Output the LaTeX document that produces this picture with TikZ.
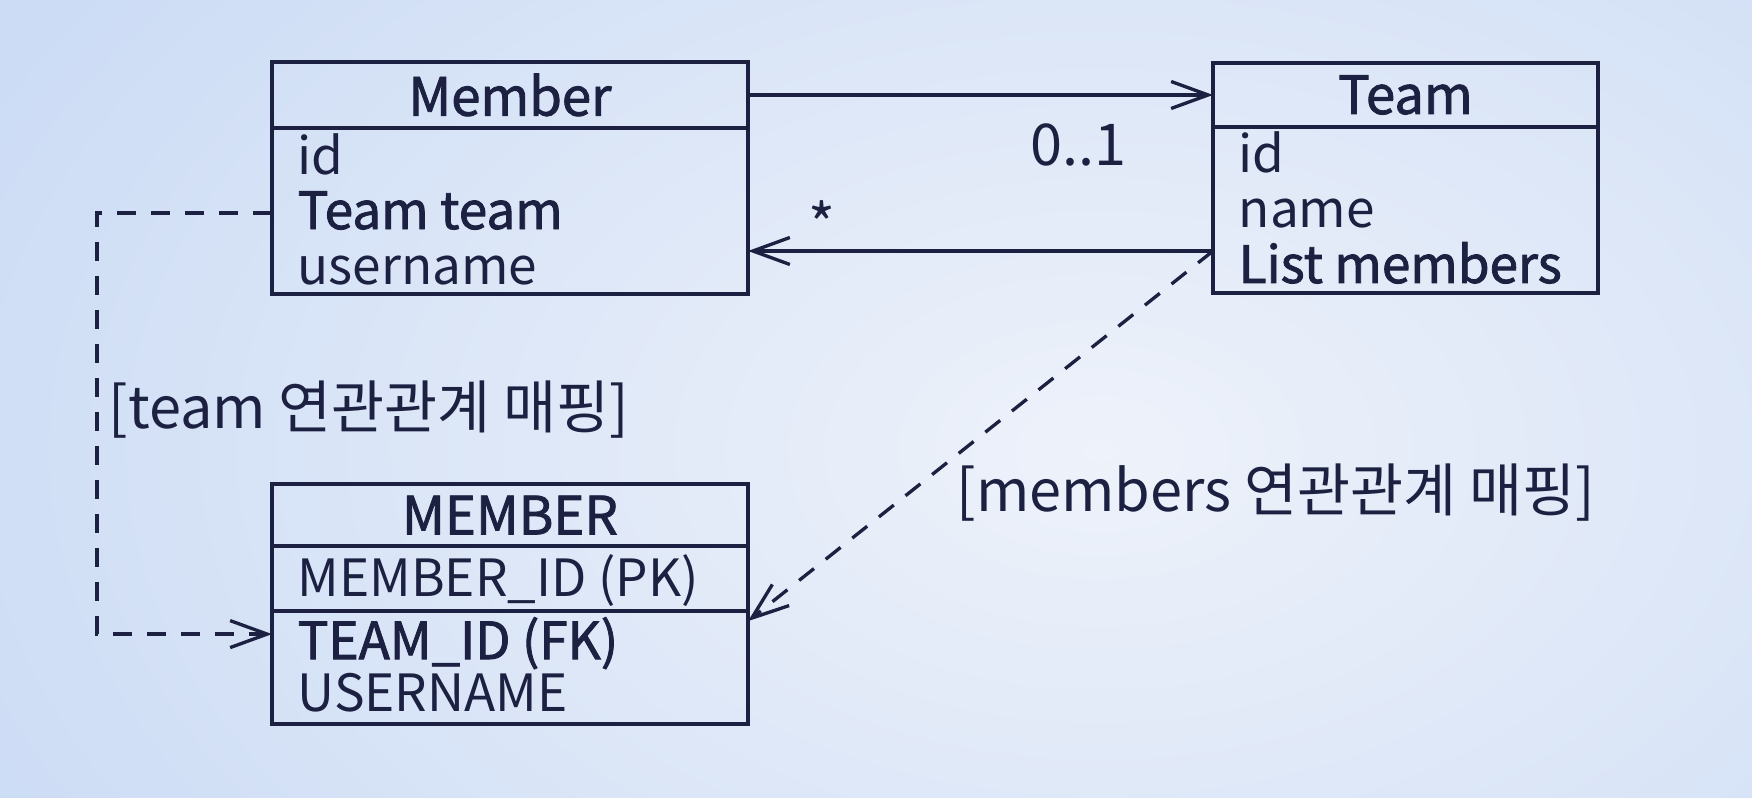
\documentclass[tikz,border=0pt]{standalone}
\usepackage{fontspec}
\setmainfont{Noto Sans CJK KR}[BoldFont=Noto Sans CJK KR,BoldFeatures={FakeBold=1.6}]
\usetikzlibrary{arrows.meta,positioning,calc}
\definecolor{ink}{HTML}{1C2142}
\definecolor{bginner}{HTML}{EEF2FA}
\definecolor{bgouter}{HTML}{CCDCF5}

\begin{document}
\begin{tikzpicture}[
node distance=0pt,
hdr/.style={draw=ink,line width=1.1pt,outer sep=0pt,minimum height=0.64cm,text=ink,font=\fontsize{15}{18}\selectfont\bfseries},
part/.style={draw=ink,line width=1.1pt,outer sep=0pt},
field/.style={anchor=base west,inner sep=0pt,text=ink,font=\fontsize{14.6}{18}\selectfont},
key/.style={field,font=\fontsize{14.6}{18}\selectfont\bfseries},
note/.style={inner sep=0pt,text=ink,font=\fontsize{16.4}{18}\selectfont},
assoc/.style={draw=ink,line width=0.95pt,-{Straight Barb[length=3.7mm,width=2.7mm]}},
maplink/.style={assoc,dash pattern=on 1.9mm off 1.5mm}]
% background
\useasboundingbox (0,0) rectangle (17.52,-7.98);
\begin{scope}
\clip (0,0) rectangle (17.52,-7.98);
\shade[inner color=bginner,outer color=bgouter] (-1.5,3.5) rectangle (23.5,-12.5);
\end{scope}
% classes
\node[hdr,minimum width=4.76cm] (memhead) at (5.10,-0.95) {Member};
\node[part,minimum width=4.76cm,minimum height=1.66cm,below=of memhead] (membody) {};
\node[hdr,minimum width=3.85cm,right=4.65cm of memhead] (teamhead) {Team};
\node[part,minimum width=3.85cm,minimum height=1.66cm,below=of teamhead] (teambody) {};
% table
\node[hdr,minimum width=4.76cm,minimum height=0.62cm,below=1.90cm of membody] (dbhead) {MEMBER};
\node[part,minimum width=4.76cm,minimum height=0.65cm,below=of dbhead] (dbpk) {};
\node[part,minimum width=4.76cm,minimum height=1.13cm,below=of dbpk] (dbrest) {};
% fields
\node[field] (memid) at ($(membody.north west)+(0.25,-0.46)$) {id};
\node[key] (memteam) at ($(memid.base west)+(0,-0.55)$) {Team team};
\node[field] (memname) at ($(memteam.base west)+(0,-0.55)$) {username};
\node[field] (teamid) at ($(teambody.north west)+(0.25,-0.46)$) {id};
\node[field] (teamname) at ($(teamid.base west)+(0,-0.55)$) {name};
\node[key] (teamlist) at ($(teamname.base west)+(0,-0.55)$) {List members};
\node[field] (dbpkname) at ($(dbpk.north west)+(0.25,-0.50)$) {MEMBER\_ID (PK)};
\node[key] (dbfk) at ($(dbrest.north west)+(0.25,-0.48)$) {TEAM\_ID (FK)};
\node[field] (dbuser) at ($(dbfk.base west)+(0,-0.52)$) {USERNAME};
% ports
\coordinate (teamport) at ($(membody.north west)+(0,-0.85)$);
\coordinate (listport) at ($(teambody.north west)+(0,-1.24)$);
\coordinate (fkport) at ($(dbrest.north west)+(0,-0.23)$);
\coordinate (fkport2) at ($(dbrest.north east)+(0,-0.10)$);
% connectors
\draw[assoc] (memhead.east) -- node[note,pos=0.71,yshift=-0.50cm] {0..1} (teamhead.west);
\draw[assoc] (listport) -- node[note,pos=0.84,yshift=0.27cm] {*} (listport -| membody.east);
\draw[maplink] (teamport) -- ++(-1.75,0) |- (fkport);
\draw[maplink] (listport) -- (fkport2);
% labels
\node[note,anchor=west] (teamnote) at ($(membody.south west)+(-1.64,-1.16)$) {[team 연관관계 매핑]};
\node[note,anchor=west] (membersnote) at ($(dbhead.north east)+(2.08,-0.09)$) {[members 연관관계 매핑]};
\end{tikzpicture}
\end{document}
